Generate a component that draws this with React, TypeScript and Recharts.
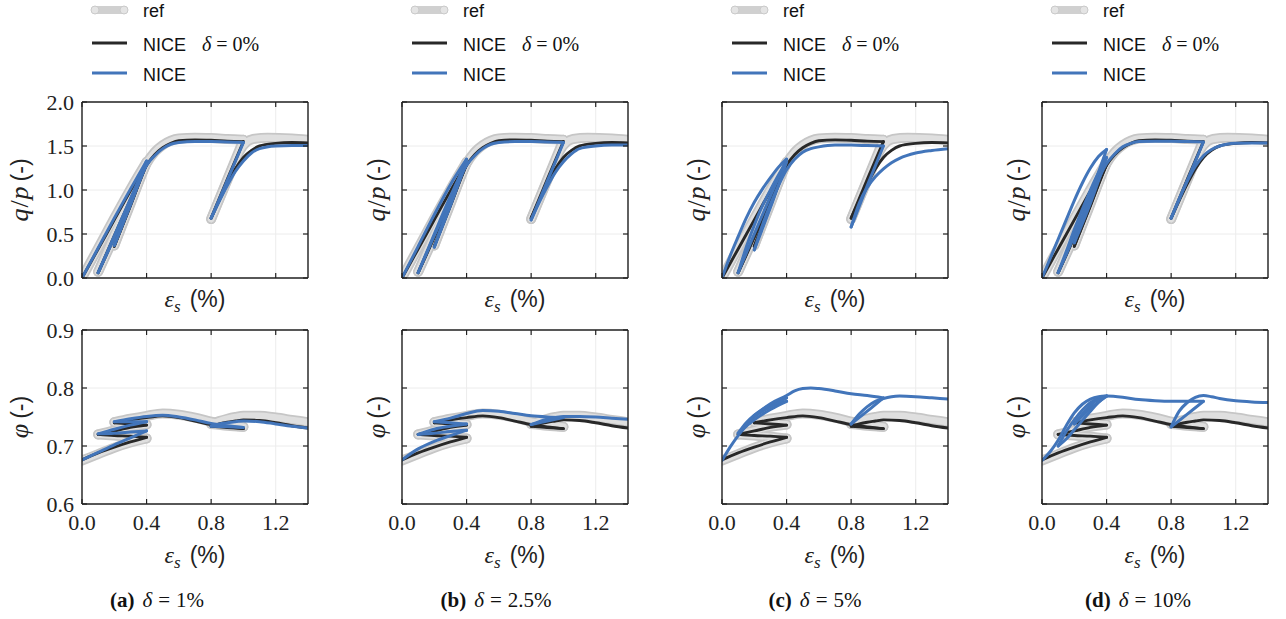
import React from "react";
import { LineChart, Line, XAxis, YAxis, CartesianGrid, ReferenceLine } from "recharts";

type Pt = [number, number];

const X_MAX = 1.4;
const X_TICKS = [0, 0.4, 0.8, 1.2];
const Q_TICKS = [0, 0.5, 1.0, 1.5, 2.0];
const PHI_TICKS = [0.6, 0.7, 0.8, 0.9];
const CASES = ["a", "b", "c", "d"];
const DELTAS = ["1%", "2.5%", "5%", "10%"];

// q/p vs eps_s (%) -- loading / unloading paths
const refQ: Pt[] = [
  [0, 0], [0.1, 0.34], [0.2, 0.68], [0.3, 1.01], [0.4, 1.32],
  [0.3, 0.91], [0.2, 0.49], [0.1, 0.07],
  [0.2, 0.47], [0.3, 0.9], [0.4, 1.31],
  [0.3, 0.85], [0.2, 0.37],
  [0.3, 0.84], [0.4, 1.3], [0.45, 1.43], [0.5, 1.51], [0.55, 1.56], [0.6, 1.585], [0.7, 1.595], [0.8, 1.59], [0.9, 1.58], [1.0, 1.57],
  [0.9, 1.12], [0.8, 0.67],
  [0.85, 0.89], [0.9, 1.11], [0.95, 1.33], [0.98, 1.45], [1.02, 1.545], [1.06, 1.58], [1.15, 1.595], [1.3, 1.585], [1.4, 1.57],
];

const niceQ0: Pt[] = [
  [0, 0], [0.1, 0.33], [0.2, 0.66], [0.3, 0.99], [0.4, 1.3],
  [0.3, 0.89], [0.2, 0.48], [0.1, 0.06],
  [0.2, 0.46], [0.3, 0.88], [0.4, 1.29],
  [0.3, 0.83], [0.2, 0.36],
  [0.3, 0.82], [0.4, 1.28], [0.45, 1.4], [0.5, 1.48], [0.55, 1.53], [0.6, 1.56], [0.7, 1.57], [0.8, 1.565], [0.9, 1.555], [1.0, 1.55],
  [0.9, 1.12], [0.8, 0.68],
  [0.85, 0.88], [0.9, 1.07], [0.95, 1.24], [1.0, 1.37], [1.05, 1.45], [1.1, 1.5], [1.2, 1.53], [1.3, 1.54], [1.4, 1.535],
];

const niceQa: Pt[] = [
  [0, 0], [0.1, 0.34], [0.2, 0.68], [0.3, 1.01], [0.4, 1.33],
  [0.3, 0.9], [0.2, 0.48], [0.1, 0.06],
  [0.2, 0.46], [0.3, 0.88], [0.4, 1.3],
  [0.3, 0.84], [0.2, 0.37],
  [0.3, 0.83], [0.4, 1.28], [0.45, 1.39], [0.5, 1.47], [0.55, 1.52], [0.6, 1.54], [0.7, 1.55], [0.8, 1.55], [0.9, 1.545], [1.0, 1.54],
  [0.9, 1.11], [0.8, 0.68],
  [0.85, 0.87], [0.9, 1.05], [0.95, 1.21], [1.0, 1.33], [1.05, 1.42], [1.1, 1.47], [1.2, 1.5], [1.3, 1.505], [1.4, 1.505],
];

const niceQb: Pt[] = [
  [0, 0], [0.1, 0.36], [0.2, 0.72], [0.3, 1.06], [0.4, 1.35],
  [0.3, 0.9], [0.2, 0.48], [0.1, 0.06],
  [0.2, 0.5], [0.3, 0.93], [0.4, 1.32],
  [0.3, 0.82], [0.2, 0.35],
  [0.3, 0.86], [0.4, 1.28], [0.45, 1.39], [0.5, 1.47], [0.55, 1.52], [0.6, 1.54], [0.7, 1.55], [0.8, 1.55], [0.9, 1.545], [1.0, 1.54],
  [0.9, 1.1], [0.8, 0.66],
  [0.85, 0.86], [0.9, 1.04], [0.95, 1.2], [1.0, 1.32], [1.05, 1.41], [1.1, 1.47], [1.2, 1.5], [1.3, 1.51], [1.4, 1.51],
];

const niceQc: Pt[] = [
  [0, 0], [0.05, 0.25], [0.1, 0.47], [0.15, 0.68], [0.2, 0.86], [0.25, 1.01], [0.3, 1.14], [0.35, 1.26], [0.4, 1.35],
  [0.3, 0.93], [0.2, 0.5], [0.1, 0.06],
  [0.15, 0.35], [0.2, 0.6], [0.25, 0.82], [0.3, 1.0], [0.35, 1.17], [0.4, 1.32],
  [0.3, 0.8], [0.2, 0.32],
  [0.25, 0.6], [0.3, 0.84], [0.35, 1.05], [0.4, 1.23], [0.45, 1.35], [0.5, 1.43], [0.55, 1.47], [0.6, 1.49], [0.7, 1.51], [0.8, 1.51], [0.9, 1.505], [1.0, 1.5],
  [0.9, 1.05], [0.8, 0.58],
  [0.85, 0.85], [0.9, 1.03], [0.95, 1.15], [1.0, 1.24], [1.05, 1.31], [1.1, 1.36], [1.2, 1.42], [1.3, 1.45], [1.4, 1.47],
];

const niceQd: Pt[] = [
  [0, 0], [0.05, 0.22], [0.1, 0.44], [0.15, 0.66], [0.2, 0.88], [0.25, 1.08], [0.3, 1.25], [0.35, 1.38], [0.4, 1.46],
  [0.35, 1.2], [0.3, 0.95], [0.2, 0.48], [0.1, 0.06],
  [0.15, 0.3], [0.2, 0.55], [0.3, 1.0], [0.35, 1.2], [0.4, 1.37],
  [0.3, 0.85], [0.2, 0.4],
  [0.3, 0.9], [0.4, 1.3], [0.45, 1.41], [0.5, 1.49], [0.55, 1.53], [0.6, 1.55], [0.7, 1.555], [0.8, 1.555], [0.9, 1.55], [1.0, 1.545],
  [0.9, 1.11], [0.8, 0.68],
  [0.85, 0.9], [0.9, 1.1], [0.95, 1.27], [1.0, 1.39], [1.05, 1.46], [1.1, 1.5], [1.2, 1.53], [1.3, 1.535], [1.4, 1.535],
];

// porosity phi vs eps_s (%)
const refPhi: Pt[] = [
  [0, 0.675], [0.1, 0.686], [0.2, 0.697], [0.3, 0.706], [0.4, 0.713],
  [0.3, 0.716], [0.2, 0.718], [0.1, 0.72],
  [0.2, 0.727], [0.3, 0.733], [0.4, 0.737],
  [0.3, 0.739], [0.2, 0.741],
  [0.3, 0.747], [0.4, 0.752], [0.5, 0.756], [0.6, 0.754], [0.7, 0.749], [0.8, 0.742], [0.9, 0.737], [1.0, 0.733],
  [0.9, 0.735], [0.8, 0.738],
  [0.85, 0.743], [0.9, 0.747], [0.95, 0.75], [1.0, 0.752], [1.1, 0.752], [1.2, 0.749], [1.3, 0.745], [1.4, 0.741],
];

const nicePhi0: Pt[] = [
  [0, 0.676], [0.1, 0.688], [0.2, 0.698], [0.3, 0.707], [0.4, 0.715],
  [0.3, 0.717], [0.2, 0.718], [0.1, 0.72],
  [0.2, 0.726], [0.3, 0.732], [0.4, 0.736],
  [0.3, 0.738], [0.2, 0.74],
  [0.3, 0.745], [0.4, 0.749], [0.5, 0.752], [0.6, 0.749], [0.7, 0.743], [0.8, 0.737], [0.9, 0.733], [1.0, 0.73],
  [0.9, 0.732], [0.8, 0.734],
  [0.85, 0.738], [0.9, 0.741], [0.95, 0.743], [1.0, 0.745], [1.1, 0.744], [1.2, 0.74], [1.3, 0.735], [1.4, 0.731],
];

const nicePhiA: Pt[] = [
  [0, 0.676], [0.1, 0.689], [0.2, 0.702], [0.3, 0.714], [0.4, 0.726],
  [0.3, 0.724], [0.2, 0.722], [0.1, 0.721],
  [0.2, 0.729], [0.3, 0.736], [0.4, 0.742],
  [0.3, 0.742], [0.2, 0.742],
  [0.3, 0.747], [0.4, 0.751], [0.5, 0.753], [0.6, 0.75], [0.7, 0.745], [0.8, 0.739], [0.9, 0.735], [1.0, 0.732],
  [0.9, 0.733], [0.8, 0.734],
  [0.85, 0.738], [0.9, 0.74], [1.0, 0.743], [1.1, 0.742], [1.2, 0.738], [1.3, 0.734], [1.4, 0.731],
];

const nicePhiB: Pt[] = [
  [0, 0.676], [0.1, 0.695], [0.2, 0.708], [0.3, 0.718], [0.4, 0.727],
  [0.3, 0.725], [0.2, 0.722], [0.1, 0.72],
  [0.2, 0.729], [0.3, 0.734], [0.4, 0.738],
  [0.3, 0.74], [0.2, 0.742],
  [0.3, 0.748], [0.4, 0.756], [0.5, 0.761], [0.6, 0.76], [0.7, 0.756], [0.8, 0.752], [0.9, 0.75], [1.0, 0.749],
  [0.9, 0.743], [0.8, 0.737],
  [0.85, 0.742], [0.9, 0.746], [0.95, 0.749], [1.0, 0.751], [1.1, 0.751], [1.2, 0.75], [1.3, 0.748], [1.4, 0.746],
];

const nicePhiC: Pt[] = [
  [0, 0.675], [0.05, 0.698], [0.1, 0.718], [0.15, 0.735], [0.2, 0.75], [0.3, 0.768], [0.4, 0.777],
  [0.3, 0.763], [0.2, 0.745], [0.1, 0.722],
  [0.15, 0.74], [0.2, 0.753], [0.3, 0.771], [0.4, 0.783],
  [0.3, 0.768], [0.2, 0.752],
  [0.3, 0.773], [0.4, 0.787], [0.45, 0.795], [0.5, 0.799], [0.55, 0.8], [0.6, 0.799], [0.7, 0.795], [0.8, 0.79], [0.9, 0.787], [1.0, 0.783],
  [0.9, 0.76], [0.8, 0.738],
  [0.85, 0.755], [0.9, 0.768], [0.95, 0.777], [1.0, 0.782], [1.05, 0.785], [1.1, 0.786], [1.2, 0.785], [1.3, 0.783], [1.4, 0.781],
];

const nicePhiD: Pt[] = [
  [0, 0.675], [0.05, 0.69], [0.1, 0.71], [0.15, 0.735], [0.2, 0.757], [0.25, 0.772], [0.3, 0.781], [0.35, 0.785], [0.4, 0.786],
  [0.35, 0.775], [0.3, 0.76], [0.2, 0.728], [0.15, 0.712], [0.1, 0.7],
  [0.15, 0.725], [0.2, 0.745], [0.25, 0.762], [0.3, 0.775], [0.35, 0.782], [0.4, 0.786],
  [0.3, 0.765], [0.2, 0.738],
  [0.25, 0.755], [0.3, 0.77], [0.4, 0.786], [0.5, 0.784], [0.6, 0.78], [0.7, 0.778], [0.8, 0.777], [0.9, 0.777], [1.0, 0.777],
  [0.9, 0.755], [0.8, 0.733],
  [0.85, 0.76], [0.9, 0.775], [0.95, 0.784], [1.0, 0.787], [1.05, 0.785], [1.1, 0.782], [1.2, 0.778], [1.3, 0.776], [1.4, 0.775],
];

const NICE_Q = [niceQa, niceQb, niceQc, niceQd];
const NICE_PHI = [nicePhiA, nicePhiB, nicePhiC, nicePhiD];

// layout
const PLOT_LEFT = [82, 402, 722, 1042];
const CAPTION_X = [157, 496, 815, 1138];
const PW = 226;
const TOP_Y = 102;
const TOP_H = 176;
const BOT_Y = 330;
const BOT_H = 174;
const YW = 60;
const MT = 16;

const SERIF = "'Liberation Serif', 'DejaVu Serif', serif";
const SANS = "'Liberation Sans', Arial, sans-serif";
const INK = "#222222";
const BLUE = "#4275ba";
const BLACK = "#282828";

// split a load/unload path wherever the strain direction reverses
function branches(path: Pt[]) {
  const out: { x: number; y: number }[][] = [];
  let cur = [{ x: path[0][0], y: path[0][1] }];
  let dir = 0;
  for (let i = 1; i < path.length; i++) {
    const d = Math.sign(path[i][0] - path[i - 1][0]);
    if (dir !== 0 && d !== dir) {
      out.push(cur);
      cur = [cur[cur.length - 1]];
    }
    dir = d;
    cur.push({ x: path[i][0], y: path[i][1] });
  }
  out.push(cur);
  return out;
}

function pathLines(key: string, path: Pt[], stroke: string, width: number) {
  return branches(path).map((seg, i) => (
    <Line
      key={`${key}-${i}`}
      data={seg}
      dataKey="y"
      type="monotone"
      stroke={stroke}
      strokeWidth={width}
      strokeLinecap="round"
      strokeLinejoin="round"
      dot={false}
      activeDot={false}
      isAnimationActive={false}
    />
  ));
}

function Panel({
  left,
  top,
  h,
  domain,
  yTicks,
  showY,
  showX,
  refPath,
  blackPath,
  bluePath,
}: {
  left: number;
  top: number;
  h: number;
  domain: [number, number];
  yTicks: number[];
  showY: boolean;
  showX: boolean;
  refPath: Pt[];
  blackPath: Pt[];
  bluePath: Pt[];
}) {
  const W = YW + PW + 4;
  const H = MT + h + 34;

  const xTick = (p: any) => {
    const { x, y, payload } = p;
    return (
      <g>
        <line x1={x} x2={x} y1={y} y2={y - 5} stroke={INK} strokeWidth={1.2} />
        <line x1={x} x2={x} y1={y - h} y2={y - h + 5} stroke={INK} strokeWidth={1.2} />
        {showX && (
          <text x={x} y={y + 26} textAnchor="middle" fontFamily={SERIF} fontSize={22} fill={INK}>
            {payload.value.toFixed(1)}
          </text>
        )}
      </g>
    );
  };

  const yTick = (p: any) => {
    const { x, y, payload } = p;
    return (
      <g>
        <line x1={x} x2={x + 5} y1={y} y2={y} stroke={INK} strokeWidth={1.2} />
        <line x1={x + PW} x2={x + PW - 5} y1={y} y2={y} stroke={INK} strokeWidth={1.2} />
        {showY && (
          <text x={x - 8} y={y + 7.5} textAnchor="end" fontFamily={SERIF} fontSize={22} fill={INK}>
            {payload.value.toFixed(1)}
          </text>
        )}
      </g>
    );
  };

  return (
    <div style={{ position: "absolute", left: left - YW, top: top - MT }}>
      <LineChart width={W} height={H} margin={{ top: MT, right: 4, bottom: 0, left: 0 }}>
        <CartesianGrid stroke="#ececec" strokeWidth={1} />
        <XAxis
          type="number"
          dataKey="x"
          domain={[0, X_MAX]}
          ticks={X_TICKS}
          allowDataOverflow
          height={34}
          tickSize={0}
          tickMargin={0}
          tickLine={false}
          axisLine={{ stroke: INK, strokeWidth: 1.4 }}
          tick={xTick}
          interval={0}
        />
        <YAxis
          type="number"
          domain={domain}
          ticks={yTicks}
          allowDataOverflow
          width={YW}
          tickSize={0}
          tickMargin={0}
          tickLine={false}
          axisLine={{ stroke: INK, strokeWidth: 1.4 }}
          tick={yTick}
          interval={0}
        />
        {pathLines("ref-o", refPath, "#c6c6c6", 10)}
        {pathLines("ref-i", refPath, "#dfdfdf", 6.5)}
        {pathLines("blk", blackPath, BLACK, 2.9)}
        {pathLines("blu", bluePath, BLUE, 3)}
        <ReferenceLine y={domain[1]} stroke={INK} strokeWidth={1.4} />
        <ReferenceLine x={X_MAX} stroke={INK} strokeWidth={1.4} />
      </LineChart>
    </div>
  );
}

function EpsLabel({ cx, y }: { cx: number; y: number }) {
  return (
    <text x={cx} y={y} textAnchor="middle" fill={INK}>
      <tspan fontFamily={SERIF} fontStyle="italic" fontSize={24}>ε</tspan>
      <tspan fontFamily={SERIF} fontStyle="italic" fontSize={17} dy={5}>s</tspan>
      <tspan fontFamily={SANS} fontSize={23} dy={-5} dx={9}>(%)</tspan>
    </text>
  );
}

function Overlay() {
  return (
    <svg width={1286} height={619} style={{ position: "absolute", left: 0, top: 0, pointerEvents: "none" }}>
      {CASES.map((c, i) => {
        const ox = 320 * i;
        const pl = PLOT_LEFT[i];
        const ylx = i === 0 ? 20 : pl - 25;
        return (
          <g key={c}>
            {/* legend */}
            <line x1={ox + 94} x2={ox + 125} y1={10} y2={10} stroke="#d0d0d0" strokeWidth={8} />
            <circle cx={ox + 95} cy={10} r={4} fill="#e4e4e4" stroke="#cacaca" strokeWidth={1} />
            <circle cx={ox + 124} cy={10} r={4} fill="#e4e4e4" stroke="#cacaca" strokeWidth={1} />
            <text x={ox + 143} y={17} fontFamily={SANS} fontSize={18} fill="#111">ref</text>
            <line x1={ox + 92} x2={ox + 127} y1={43} y2={43} stroke={BLACK} strokeWidth={3} />
            <text x={ox + 143} y={51} fontFamily={SANS} fontSize={18} fill="#111">NICE</text>
            <text x={ox + 202} y={51} fontFamily={SERIF} fontSize={20} fill="#111">
              <tspan fontStyle="italic">δ</tspan>
              <tspan dx={5}>=</tspan>
              <tspan dx={5}>0%</tspan>
            </text>
            <line x1={ox + 92} x2={ox + 127} y1={73} y2={73} stroke={BLUE} strokeWidth={3} />
            <text x={ox + 143} y={81} fontFamily={SANS} fontSize={18} fill="#111">NICE</text>

            {/* y labels */}
            <text transform={`rotate(-90 ${ylx} ${TOP_Y + TOP_H / 2})`} x={ylx} y={TOP_Y + TOP_H / 2 + 8} textAnchor="middle" fill={INK}>
              <tspan fontFamily={SERIF} fontStyle="italic" fontSize={26}>q</tspan>
              <tspan fontFamily={SERIF} fontSize={26} dx={1}>/</tspan>
              <tspan fontFamily={SERIF} fontStyle="italic" fontSize={26} dx={1}>p</tspan>
              <tspan fontFamily={SANS} fontSize={23} dx={5}>(-)</tspan>
            </text>
            <text transform={`rotate(-90 ${ylx} ${BOT_Y + BOT_H / 2})`} x={ylx} y={BOT_Y + BOT_H / 2 + 8} textAnchor="middle" fill={INK}>
              <tspan fontFamily={SERIF} fontStyle="italic" fontSize={26}>φ</tspan>
              <tspan fontFamily={SANS} fontSize={23} dx={5}>(-)</tspan>
            </text>

            {/* x labels */}
            <EpsLabel cx={pl + PW / 2} y={307} />
            <EpsLabel cx={pl + PW / 2} y={563} />

            {/* caption */}
            <text x={CAPTION_X[i]} y={607} textAnchor="middle" fontFamily={SERIF} fontSize={21} fill="#111">
              <tspan fontWeight="bold">({c})</tspan>
              <tspan fontStyle="italic" dx={8}>δ</tspan>
              <tspan dx={6}>=</tspan>
              <tspan dx={6}>{DELTAS[i]}</tspan>
            </text>
          </g>
        );
      })}
    </svg>
  );
}

export default function App() {
  return (
    <div style={{ position: "absolute", left: 0, top: 0, width: 1286, height: 619, background: "#fff" }}>
      {CASES.map((c, i) => (
        <React.Fragment key={c}>
          <Panel
            left={PLOT_LEFT[i]}
            top={TOP_Y}
            h={TOP_H}
            domain={[0, 2]}
            yTicks={Q_TICKS}
            showY={i === 0}
            showX={false}
            refPath={refQ}
            blackPath={niceQ0}
            bluePath={NICE_Q[i]}
          />
          <Panel
            left={PLOT_LEFT[i]}
            top={BOT_Y}
            h={BOT_H}
            domain={[0.6, 0.9]}
            yTicks={PHI_TICKS}
            showY={i === 0}
            showX={true}
            refPath={refPhi}
            blackPath={nicePhi0}
            bluePath={NICE_PHI[i]}
          />
        </React.Fragment>
      ))}
      <Overlay />
    </div>
  );
}
